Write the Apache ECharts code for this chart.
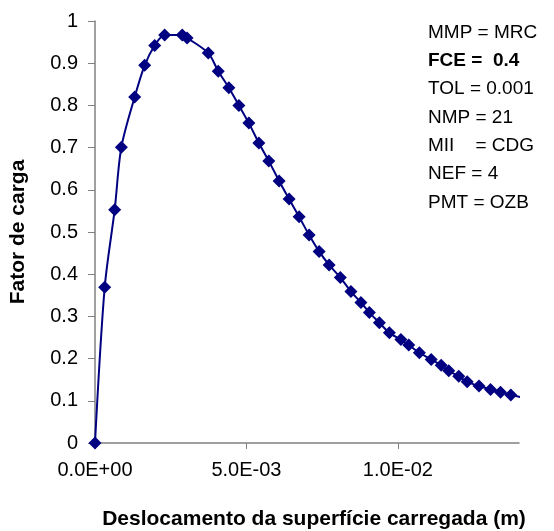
<!DOCTYPE html>
<html>
<head>
<meta charset="utf-8">
<script src="https://cdn.jsdelivr.net/npm/echarts@6/dist/echarts.min.js"></script>
<style>
  html, body { margin: 0; padding: 0; background: #fff; }
  #chart { width: 554px; height: 531px; }
</style>
</head>
<body>
<div id="chart"></div>
<script>
// Load factor vs. displacement of the loaded surface
const displacement = [0, 0.00032, 0.00065, 0.00087, 0.00131, 0.00164, 0.00197, 0.00230, 0.00288, 0.00304,
  0.00374, 0.00407, 0.00442, 0.00475, 0.00508, 0.00541, 0.00574, 0.00608, 0.00641, 0.00674,
  0.00707, 0.00740, 0.00773, 0.00810, 0.00845, 0.00878, 0.00906, 0.00939, 0.00972, 0.01010,
  0.01036, 0.01071, 0.01110, 0.01143, 0.01168, 0.01201, 0.01229, 0.01268, 0.01306, 0.01339,
  0.01373, 0.01428];
const loadFactor = [0, 0.369, 0.553, 0.701, 0.820, 0.895, 0.942, 0.967, 0.967, 0.960,
  0.924, 0.881, 0.842, 0.800, 0.758, 0.711, 0.668, 0.621, 0.578, 0.536,
  0.493, 0.454, 0.422, 0.392, 0.359, 0.333, 0.309, 0.285, 0.261, 0.245,
  0.232, 0.214, 0.198, 0.184, 0.171, 0.158, 0.145, 0.135, 0.127, 0.120,
  0.114, 0.105];
const xTicks = [0, 0.005, 0.01];
const paramLines = [
  { text: 'MMP = MRC', bold: false },
  { text: 'FCE =  0.4', bold: true },
  { text: 'TOL = 0.001', bold: false },
  { text: 'NMP = 21', bold: false },
  { text: 'MII    = CDG', bold: false },
  { text: 'NEF = 4', bold: false },
  { text: 'PMT = OZB', bold: false }
];

const FONT = 'Liberation Sans, Arial, sans-serif';
const NAVY = '#000080';

// Excel-style scientific label: 5.0E-03
function sci(v) {
  const [m, e] = v.toExponential(1).toUpperCase().split('E');
  const n = parseInt(e, 10);
  const sign = n < 0 ? '-' : '+';
  const mag = String(Math.abs(n)).padStart(2, '0');
  return m + 'E' + sign + mag;
}

const points = displacement.map((x, i) => {
  const item = { value: [x, loadFactor[i]] };
  if (i === displacement.length - 1) item.symbol = 'none';
  return item;
});

// Run parameters listed in the upper right corner
const graphics = paramLines.map((p, i) => ({
  type: 'text',
  left: 428,
  top: 23 + i * 28.3,
  style: {
    text: p.text,
    font: (p.bold ? 'bold ' : '') + '19px ' + FONT,
    fill: '#000'
  }
}));

const chart = echarts.init(document.getElementById('chart'), null, { renderer: 'canvas' });
chart.setOption({
  animation: false,
  backgroundColor: '#fff',
  grid: { left: 95, right: 35, top: 21, bottom: 88, containLabel: false, outerBoundsMode: 'none' },
  xAxis: {
    type: 'value',
    min: 0,
    max: 0.014,
    interval: 0.005,
    name: 'Deslocamento da superfície carregada (m)',
    nameLocation: 'middle',
    nameGap: 66,
    nameTextStyle: { fontFamily: FONT, fontWeight: 'bold', fontSize: 21, color: '#000', padding: [0, 0, 0, 14] },
    axisLine: { lineStyle: { color: '#808080', width: 1.5 } },
    axisTick: { show: true, length: 6, inside: false, customValues: xTicks, lineStyle: { color: '#808080' } },
    axisLabel: { customValues: xTicks, formatter: sci, fontFamily: FONT, fontSize: 20, color: '#000', margin: 17 },
    splitLine: { show: false }
  },
  yAxis: {
    type: 'value',
    min: 0,
    max: 1,
    interval: 0.1,
    name: 'Fator de carga',
    nameLocation: 'middle',
    nameGap: 66,
    nameTextStyle: { fontFamily: FONT, fontWeight: 'bold', fontSize: 21, color: '#000' },
    axisLine: { show: true, lineStyle: { color: '#808080', width: 1.5 } },
    axisTick: { show: true, length: 7, inside: false, lineStyle: { color: '#808080' } },
    axisLabel: {
      formatter: v => String(+v.toFixed(1)),
      fontFamily: FONT, fontSize: 20, color: '#000', margin: 17
    },
    splitLine: { show: false }
  },
  graphic: graphics,
  series: [{
    type: 'line',
    data: points,
    smooth: 0.3,
    clip: false,
    symbol: 'diamond',
    symbolSize: 13,
    itemStyle: { color: NAVY },
    lineStyle: { color: NAVY, width: 2 }
  }]
});
</script>
</body>
</html>
